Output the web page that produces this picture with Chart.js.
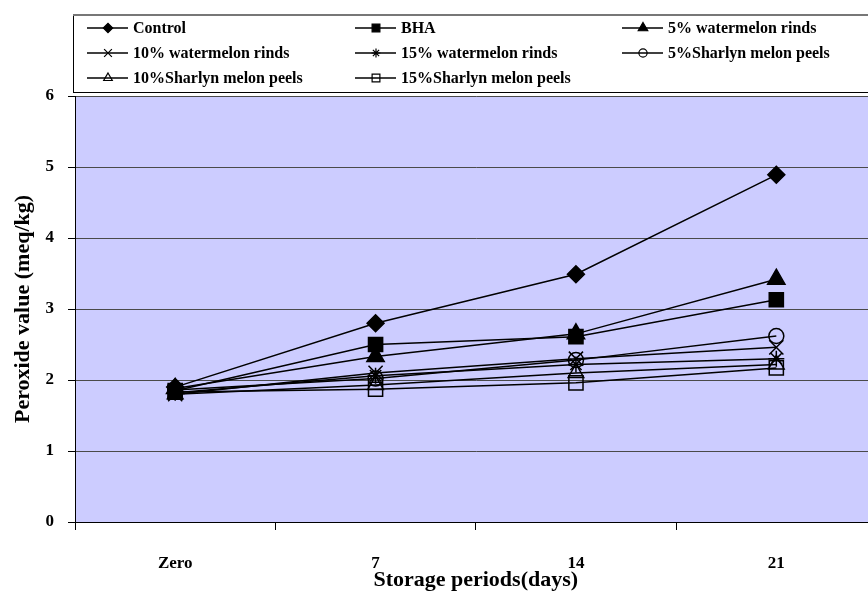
<!DOCTYPE html>
<html>
<head>
<meta charset="utf-8">
<script src="https://cdn.jsdelivr.net/npm/chart.js@4/dist/chart.umd.min.js"></script>
<style>
  html, body { margin: 0; padding: 0; background: #fff; overflow: hidden; }
  #wrap { width: 868px; height: 596px; overflow: hidden; }
</style>
</head>
<body>
<div id="wrap"><canvas id="chart" width="888" height="596"></canvas></div>
<script>
const categories = ["Zero", "7", "14", "21"]
const yTicks = [0, 1, 2, 3, 4, 5, 6]

const control = [1.90, 2.80, 3.49, 4.89]
const bha = [1.85, 2.50, 2.61, 3.13]
const watermelon5 = [1.88, 2.33, 2.65, 3.42]
const watermelon10 = [1.80, 2.10, 2.30, 2.46]
const watermelon15 = [1.82, 2.06, 2.22, 2.30]
const sharlyn5 = [1.86, 2.02, 2.28, 2.62]
const sharlyn10 = [1.80, 1.93, 2.10, 2.22]
const sharlyn15 = [1.83, 1.87, 1.96, 2.17]

const FONT = "'Liberation Serif', 'Times New Roman', serif"

// marker look per series: [label, data, pointStyle, radius, filled]
const series = [
    ["Control", control, "rectRot", 8.5, true],
    ["BHA", bha, "rect", 10, true],
    ["5% watermelon rinds", watermelon5, "triangle", 10, true],
    ["10% watermelon rinds", watermelon10, "crossRot", 10, false],
    ["15% watermelon rinds", watermelon15, "star", 8, false],
    ["5%Sharlyn melon peels", sharlyn5, "circle", 7.5, false],
    ["10%Sharlyn melon peels", sharlyn10, "triangle", 9, false],
    ["15%Sharlyn melon peels", sharlyn15, "rect", 10, false],
]

const datasets = series.map(([label, data, style, radius, filled]) => ({
    label,
    data,
    borderColor: "#000",
    borderWidth: 1.5,
    backgroundColor: filled ? "#000" : "rgba(0,0,0,0)",
    pointStyle: style,
    pointRadius: radius,
    pointBorderWidth: 1.5,
    pointBorderColor: "#000",
    pointBackgroundColor: filled ? "#000" : "rgba(0,0,0,0)",
    tension: 0,
    fill: false,
}))

// lavender plot area
const plotBackground = {
    id: "plotBackground",
    beforeDraw(chart) {
        const { ctx, chartArea: a } = chart
        ctx.save()
        ctx.fillStyle = "#ffffff"
        ctx.fillRect(0, 0, chart.width, chart.height)
        ctx.fillStyle = "#CCCCFF"
        ctx.fillRect(a.left, a.top, a.right - a.left, a.bottom - a.top)
        ctx.restore()
    },
}

// Excel style legend box: short line with the marker on it
const boxLegend = {
    id: "boxLegend",
    afterDraw(chart) {
        const ctx = chart.ctx
        const colX = [87, 355, 622]
        const rowY = [28, 53, 78]
        ctx.save()
        ctx.fillStyle = "#fff"
        ctx.fillRect(73, 15, 820, 78)
        ctx.strokeStyle = "#000"
        ctx.lineWidth = 1
        ctx.strokeRect(73.5, 15.5, 820, 77)
        ctx.strokeStyle = "#777"
        ctx.lineWidth = 2
        ctx.beginPath()
        ctx.moveTo(73, 15)
        ctx.lineTo(893, 15)
        ctx.stroke()

        chart.data.datasets.forEach((ds, i) => {
            const x = colX[i % 3]
            const y = rowY[Math.floor(i / 3)]
            ctx.strokeStyle = "#000"
            ctx.lineWidth = 1.5
            ctx.beginPath()
            ctx.moveTo(x, y)
            ctx.lineTo(x + 41, y)
            ctx.stroke()
            ctx.fillStyle = ds.pointBackgroundColor
            ctx.lineWidth = 1.2
            Chart.helpers.drawPoint(ctx, {
                pointStyle: ds.pointStyle,
                radius: Math.min(ds.pointRadius * 0.55, 5.5),
                borderWidth: 1.2,
                rotation: 0,
            }, x + 21, y)
            ctx.fillStyle = "#000"
            ctx.font = "bold 16px " + FONT
            ctx.textAlign = "left"
            ctx.textBaseline = "middle"
            ctx.fillText(ds.label, x + 46, y + 1)
        })
        ctx.restore()
    },
}

new Chart(document.getElementById("chart"), {
    type: "line",
    data: { labels: categories, datasets },
    options: {
        responsive: false,
        animation: false,
        devicePixelRatio: 1,
        layout: { padding: { top: 96, right: 3, left: 0, bottom: 0 } },
        plugins: {
            legend: { display: false },
            tooltip: { enabled: false },
        },
        scales: {
            x: {
                type: "category",
                offset: true,
                grid: {
                    offset: true,
                    drawOnChartArea: false,
                    drawTicks: true,
                    tickLength: 8,
                    tickColor: "#000",
                },
                border: { color: "#000", width: 1 },
                ticks: {
                    color: "#000",
                    font: { family: FONT, size: 17, weight: "bold" },
                    padding: 23,
                    maxRotation: 0,
                },
                title: {
                    display: true,
                    text: "Storage periods(days)",
                    color: "#000",
                    font: { family: FONT, size: 22, weight: "bold" },
                    padding: { top: 0, bottom: 2 },
                },
                afterFit(scale) {
                    scale.height = 74
                    scale.paddingLeft = 0
                    scale.paddingRight = 0
                },
            },
            y: {
                min: 0,
                max: 6,
                afterBuildTicks(scale) {
                    scale.ticks = yTicks.map(v => ({ value: v }))
                },
                grid: {
                    color: (c) => c.tick && c.tick.value === 0 ? "rgba(0,0,0,0)" : "#4a4a4a",
                    lineWidth: 1,
                    drawTicks: true,
                    tickLength: 7,
                    tickColor: "#000",
                },
                border: { color: "#000", width: 1 },
                ticks: {
                    color: "#000",
                    font: { family: FONT, size: 17, weight: "bold" },
                    padding: 14,
                },
                title: {
                    display: true,
                    text: "Peroxide value (meq/kg)",
                    color: "#000",
                    font: { family: FONT, size: 22, weight: "bold" },
                    padding: { top: 10, bottom: 0 },
                },
                afterFit(scale) {
                    scale.width = 75
                    scale.paddingTop = 0
                    scale.paddingBottom = 0
                },
            },
        },
    },
    plugins: [plotBackground, boxLegend],
})
</script>
</body>
</html>
